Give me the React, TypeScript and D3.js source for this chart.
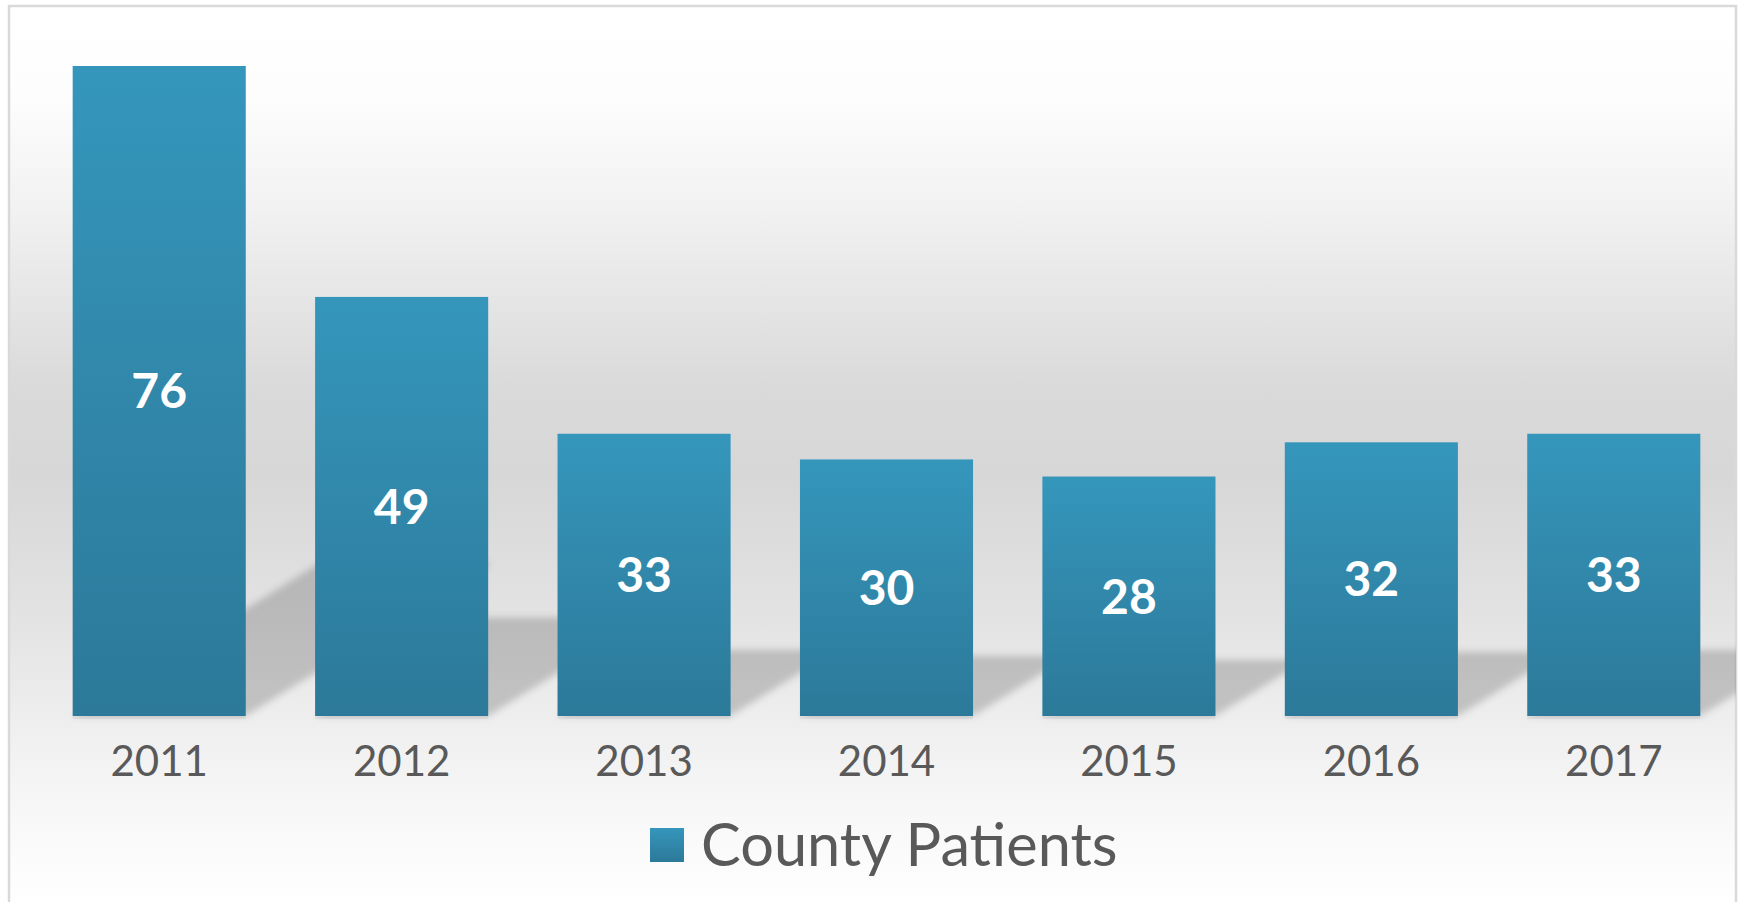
import * as d3 from 'd3';

const years = ['2011', '2012', '2013', '2014', '2015', '2016', '2017'];
const patients = [76, 49, 33, 30, 28, 32, 33];
const seriesName = 'County Patients';

const W = 1741;
const H = 902;
const baseY = 716;
const topY = 66;

export default function App() {
  const x = d3.scaleBand<string>()
    .domain(years)
    .range([38, 1735])
    .paddingInner(0.286)
    .paddingOuter(0.143);

  const y = d3.scaleLinear()
    .domain([0, 76])
    .range([baseY, topY]);

  // perspective shadow, sheared up and to the right
  const shadowPath = (d: number, i: number) => {
    const x0 = x(years[i]) as number;
    const x1 = x0 + x.bandwidth();
    const h = y(0) - y(d);
    const sh = h * 0.235;
    const shift = sh / 0.62;
    const p = d3.path();
    p.moveTo(x0, y(0));
    p.lineTo(x1, y(0));
    p.lineTo(x1 + shift, y(0) - sh);
    p.lineTo(x0 + shift, y(0) - sh);
    p.closePath();
    return p.toString();
  };

  const font = 'Lato, "Open Sans", sans-serif';

  return (
    <svg width={W} height={H} style={{ position: 'absolute', left: 0, top: 0 }}>
      <defs>
        <linearGradient id="bg" x1="0" y1="0" x2="0" y2="1">
          <stop offset="0" stopColor="#ffffff" />
          <stop offset="0.1" stopColor="#fdfdfd" />
          <stop offset="0.22" stopColor="#f2f2f2" />
          <stop offset="0.42" stopColor="#dadada" />
          <stop offset="0.52" stopColor="#d7d7d7" />
          <stop offset="0.68" stopColor="#e3e3e3" />
          <stop offset="0.8" stopColor="#efefef" />
          <stop offset="0.9" stopColor="#f8f8f8" />
          <stop offset="1" stopColor="#ffffff" />
        </linearGradient>
        <linearGradient id="bar" x1="0" y1="0" x2="0" y2="1">
          <stop offset="0" stopColor="#3596bc" />
          <stop offset="1" stopColor="#2c7999" />
        </linearGradient>
        <filter id="blur" x="-10%" y="-20%" width="120%" height="140%">
          <feGaussianBlur stdDeviation="3.5" />
        </filter>
        <clipPath id="frame">
          <rect x={9} y={6} width={1727} height={H} />
        </clipPath>
      </defs>

      <rect x={0} y={0} width={W} height={H} fill="#ffffff" />
      <rect x={9} y={6} width={1727} height={H} fill="url(#bg)" stroke="#d9d9d9" strokeWidth={2.5} />

      <g clipPath="url(#frame)">
        {patients.map((d, i) => (
          <path key={'s' + i} d={shadowPath(d, i)} fill="#000" fillOpacity={0.18} filter="url(#blur)" />
        ))}
        {patients.map((d, i) => (
          <rect
            key={'u' + i}
            x={x(years[i])}
            y={y(0)}
            width={x.bandwidth()}
            height={3}
            fill="#000"
            fillOpacity={0.05}
          />
        ))}
      </g>

      {patients.map((d, i) => (
        <rect
          key={'b' + i}
          x={x(years[i])}
          y={y(d)}
          width={x.bandwidth()}
          height={y(0) - y(d)}
          fill="url(#bar)"
        />
      ))}

      {patients.map((d, i) => (
        <text
          key={'v' + i}
          x={(x(years[i]) as number) + x.bandwidth() / 2}
          y={(y(d) + y(0)) / 2}
          dy="0.36em"
          textAnchor="middle"
          fontFamily={font}
          fontWeight={700}
          fontSize={48}
          fill="#ffffff"
        >
          {d}
        </text>
      ))}

      {years.map((c) => (
        <text
          key={c}
          x={(x(c) as number) + x.bandwidth() / 2}
          y={776}
          textAnchor="middle"
          fontFamily={font}
          fontSize={42}
          fill="#595959"
        >
          {c}
        </text>
      ))}

      <g>
        <rect x={650} y={828} width={34} height={34} fill="url(#bar)" />
        <text x={701} y={866} fontFamily={font} fontSize={59.5} fill="#595959">
          {seriesName}
        </text>
      </g>
    </svg>
  );
}
